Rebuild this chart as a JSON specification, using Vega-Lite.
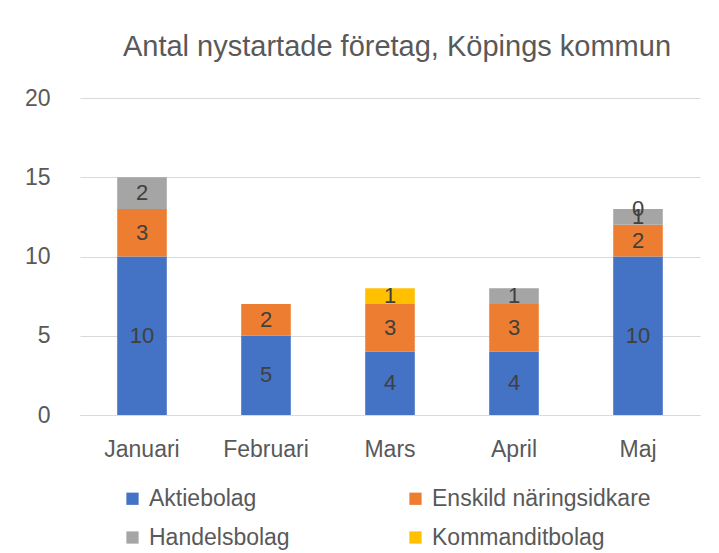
{
  "$schema": "https://vega.github.io/schema/vega-lite/v6.json",
  "width": 620,
  "height": 317,
  "autosize": {"type": "none"},
  "padding": {"left": 80, "top": 98, "right": 19, "bottom": 138},
  "background": "white",
  "title": {
    "text": "Antal nystartade företag, Köpings kommun",
    "font": "Liberation Sans",
    "fontSize": 29,
    "fontWeight": "normal",
    "color": "#595959",
    "offset": 25,
    "anchor": "middle",
    "dx": 7
  },
  "config": {
    "view": {"stroke": null},
    "font": "Liberation Sans",
    "axis": {"labelFont": "Liberation Sans", "labelColor": "#595959", "labelFontSize": 23},
    "legend": {"labelFont": "Liberation Sans", "labelColor": "#595959", "labelFontSize": 23}
  },
  "data": {
    "values": [
      {"month": "Januari", "typ": "Aktiebolag", "antal": 10},
      {"month": "Januari", "typ": "Enskild näringsidkare", "antal": 3},
      {"month": "Januari", "typ": "Handelsbolag", "antal": 2},
      {"month": "Februari", "typ": "Aktiebolag", "antal": 5},
      {"month": "Februari", "typ": "Enskild näringsidkare", "antal": 2},
      {"month": "Mars", "typ": "Aktiebolag", "antal": 4},
      {"month": "Mars", "typ": "Enskild näringsidkare", "antal": 3},
      {"month": "Mars", "typ": "Kommanditbolag", "antal": 1},
      {"month": "April", "typ": "Aktiebolag", "antal": 4},
      {"month": "April", "typ": "Enskild näringsidkare", "antal": 3},
      {"month": "April", "typ": "Handelsbolag", "antal": 1},
      {"month": "Maj", "typ": "Aktiebolag", "antal": 10},
      {"month": "Maj", "typ": "Enskild näringsidkare", "antal": 2},
      {"month": "Maj", "typ": "Handelsbolag", "antal": 1},
      {"month": "Maj", "typ": "Kommanditbolag", "antal": 0}
    ]
  },
  "transform": [
    {"stack": "antal", "groupby": ["month"], "sort": [{"field": "typ", "order": "ascending"}], "as": ["y0", "y1"]}
  ],
  "encoding": {
    "x": {
      "field": "month",
      "type": "nominal",
      "sort": ["Januari", "Februari", "Mars", "April", "Maj"],
      "scale": {"paddingInner": 0.6, "paddingOuter": 0.3},
      "axis": {"title": null, "labelAngle": 0, "ticks": false, "domainColor": "#D9D9D9", "labelPadding": 23}
    }
  },
  "layer": [
    {
      "mark": {"type": "bar"},
      "encoding": {
        "y": {
          "field": "y0",
          "type": "quantitative",
          "scale": {"domain": [0, 20]},
          "axis": {"title": null, "values": [0, 5, 10, 15, 20], "domain": false, "ticks": false, "gridColor": "#D9D9D9", "labelPadding": 30}
        },
        "y2": {"field": "y1"},
        "color": {
          "field": "typ",
          "type": "nominal",
          "scale": {
            "domain": ["Aktiebolag", "Enskild näringsidkare", "Handelsbolag", "Kommanditbolag"],
            "range": ["#4472C4", "#ED7D31", "#A5A5A5", "#FFC000"]
          },
          "legend": {
            "title": null,
            "orient": "none",
            "legendX": 41,
            "legendY": 389,
            "direction": "horizontal",
            "columns": 2,
            "symbolType": "square",
            "symbolSize": 150,
            "symbolStrokeWidth": 0,
            "columnPadding": 114,
            "rowPadding": 15,
            "labelOffset": 5,
            "labelLimit": 400
          }
        }
      }
    },
    {
      "transform": [
        {"fold": ["y0", "y1"], "as": ["k", "v"]}
      ],
      "mark": {"type": "text", "fontSize": 22, "color": "#404040", "font": "Liberation Sans", "baseline": "middle"},
      "encoding": {
        "y": {"field": "v", "aggregate": "mean", "type": "quantitative"},
        "detail": {"field": "typ", "type": "nominal"},
        "text": {"field": "antal", "type": "quantitative"}
      }
    }
  ]
}
